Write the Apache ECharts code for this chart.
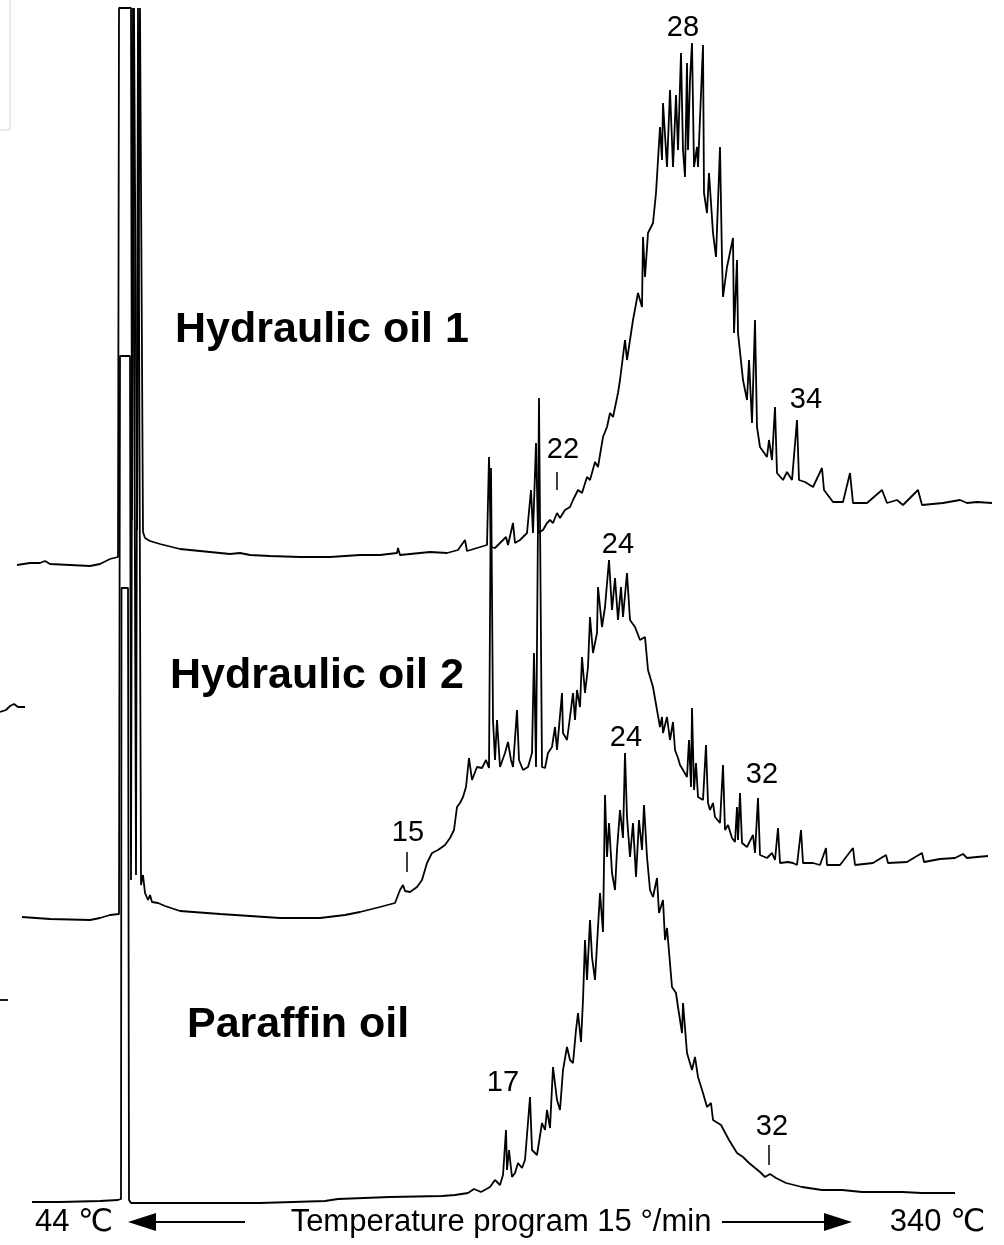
<!DOCTYPE html>
<html>
<head>
<meta charset="utf-8">
<script src="https://cdn.jsdelivr.net/npm/echarts@6/dist/echarts.min.js"></script>
<style>
html,body{margin:0;padding:0;background:#fff;}
#chart{width:1004px;height:1245px;}
</style>
</head>
<body>
<div id="chart"></div>
<script>
// Retention position (arb. units) and detector response above each trace's own baseline
const hydraulicOil1 = [
[17,0],[30,2],[40,2],[45,4],[50,1],[70,0],[90,-1],[100,1],[110,6],[118,8],
[119,557],[131,557],[132,45],[134,557],[136,557],[137,35],[140,557],[142,557],[143,33],[145,27],
[150,24],[160,21],[180,16],[200,14],[230,11],[240,12],[250,10],[270,9],[300,8],[330,8],[360,10],[380,10],
[397,12],[398,17],[400,10],[420,12],[430,13],[447,12],[458,15],[465,25],[467,14],[477,17],[487,20],
[489,108],[491,18],[495,17],[500,22],[506,28],[508,20],[513,42],[515,22],[520,25],[527,32],[531,75],
[533,32],[536,122],[538,32],[543,35],[547,42],[550,45],[553,42],[557,52],[560,47],[565,55],[570,58],
[573,65],[578,75],[582,72],[587,88],[590,85],[595,103],[598,98],[603,128],[607,138],[610,152],[613,148],
[618,172],[620,185],[625,225],[627,205],[633,245],[638,272],[642,258],[643,328],[645,288],[648,332],
[653,342],[656,372],[660,438],[662,405],[663,462],[667,398],[670,475],[673,398],[676,470],[678,415],
[681,512],[683,415],[685,388],[687,502],[688,415],[690,485],[692,522],[694,398],[697,418],[698,398],
[703,520],[704,372],[707,352],[709,392],[713,332],[716,308],[720,418],[722,305],[723,268],[727,298],
[733,327],[734,232],[737,305],[738,232],[743,185],[747,165],[749,205],[752,142],[755,245],[757,138],
[760,118],[767,108],[769,125],[772,105],[775,158],[777,92],[783,85],[787,93],[792,85],[797,145],[799,85],
[805,83],[813,78],[822,97],[824,75],[833,63],[843,63],[850,92],[853,62],[867,62],[882,75],[887,62],
[897,65],[903,60],[918,75],[922,60],[943,62],[960,65],[967,62],[977,63],[992,62]
];
const hydraulicOil2 = [
[22,3],[50,1],[90,0],[100,2],[110,5],[119,6],
[120,564],[130,564],[131,40],[133,912],[135,912],[136,45],[138,912],[140,912],[141,35],[143,45],
[145,27],[148,20],[150,25],[152,18],[158,17],[165,14],[180,9],[220,6],[280,2],[320,2],[345,5],[360,8],
[380,13],[395,17],[400,30],[403,35],[405,29],[410,28],[417,33],[422,40],[427,57],[432,67],[438,70],
[445,75],[450,82],[454,90],[457,113],[460,117],[463,123],[466,133],[469,162],[472,140],[477,153],
[482,152],[486,160],[489,152],[491,452],[493,200],[495,160],[497,200],[500,153],[505,167],[508,178],
[511,160],[513,153],[517,210],[519,160],[523,150],[528,153],[532,167],[534,267],[536,153],[539,522],
[542,153],[545,152],[548,167],[552,173],[555,193],[557,170],[562,227],[563,187],[567,180],[570,203],
[573,227],[575,200],[577,230],[580,213],[582,263],[585,227],[588,253],[590,303],[593,267],[597,287],
[598,333],[602,293],[605,313],[609,360],[612,310],[615,342],[618,300],[621,333],[623,303],[627,347],
[630,300],[635,293],[640,280],[645,283],[648,250],[653,233],[657,210],[660,193],[662,203],[663,187],
[667,203],[670,180],[673,198],[675,170],[678,162],[680,155],[683,150],[687,143],[689,180],[691,133],
[692,212],[694,130],[696,157],[698,123],[703,120],[706,175],[708,117],[710,110],[713,117],[715,103],
[720,97],[723,155],[725,90],[728,95],[732,82],[735,78],[737,113],[738,80],[740,127],[742,77],[747,73],
[753,85],[755,67],[758,122],[760,65],[767,62],[772,67],[775,60],[778,92],[780,57],[788,58],[793,57],
[797,55],[801,90],[803,57],[813,57],[820,55],[826,72],[827,55],[840,55],[853,72],[855,55],[873,57],
[886,65],[888,57],[907,58],[922,67],[924,58],[940,61],[955,62],[963,66],[967,62],[977,63],[988,64]
];
const paraffinOil = [
[32,3],[60,3],[100,4],[118,5],[121,6],[121.5,617],[128,617],[129,5],[131,2],[140,2],[200,2],[260,2],
[325,4],[338,6],[390,8],[442,9],[455,10],[468,12],[474,16],[481,13],[490,18],[495,25],[500,20],[503,30],
[506,75],[507,35],[509,55],[512,28],[515,32],[518,42],[522,37],[525,45],[530,108],[532,55],[537,50],
[542,82],[545,75],[547,95],[550,77],[553,138],[557,105],[560,95],[563,135],[567,158],[570,145],[573,142],
[576,175],[578,192],[581,163],[583,205],[585,265],[587,225],[590,285],[592,248],[595,225],[598,278],
[600,312],[603,273],[605,410],[607,348],[609,382],[612,332],[615,315],[617,355],[620,395],[623,367],
[625,452],[627,388],[630,348],[633,382],[636,328],[639,385],[642,355],[644,400],[647,348],[650,315],
[653,308],[657,327],[659,292],[663,305],[665,265],[667,277],[672,218],[676,212],[678,198],[682,172],
[683,202],[687,152],[692,135],[695,148],[698,128],[703,112],[707,98],[711,102],[713,85],[721,80],
[729,65],[737,52],[743,48],[749,42],[760,33],[765,28],[770,31],[776,27],[786,22],[802,18],[822,15],
[842,15],[862,13],[882,13],[902,13],[922,12],[955,12]
];
// stray pen strokes at the left edge of the scan (plot units)
const strayStroke1 = [[0,533],[6,535],[10,539],[14,541],[18,538],[25,538]];
const strayStroke2 = [[0,245],[8,245]];

const traceNames = ['Hydraulic oil 1','Hydraulic oil 2','Paraffin oil'];
const peakLabels1 = ['28','34','22'];
const peakLabels2 = ['24','32','15'];
const peakLabels3 = ['24','17','32'];
const axisText = ['44 \u2103','Temperature program 15 \u00B0/min','340 \u2103'];

const traceOffsets = [680, 325, 40];
const traces = [hydraulicOil1, hydraulicOil2, paraffinOil];

const chart = echarts.init(document.getElementById('chart'), null, {renderer:'canvas'});
const lineStyle = {color:'#000', width:1.8};
const font = "'Liberation Sans', Arial, Helvetica, 'DejaVu Sans', sans-serif";

function tick(x, y1, y2){
  return [{coord:[x,y1]},{coord:[x,y2]}];
}
const tickLines = [
  [tick(557, 773, 755)],
  [tick(407, 393, 373)],
  [tick(769, 100, 80)]
];

const series = traces.map((t, i) => ({
  name: traceNames[i],
  type: 'line',
  showSymbol: false,
  silent: true,
  lineStyle: lineStyle,
  data: t.map(p => [p[0], p[1] + traceOffsets[i]]),
  markLine: {
    silent: true, symbol: 'none', label:{show:false},
    lineStyle:{color:'#000', width:1.5, type:'solid'},
    data: tickLines[i]
  }
}));
series.push({type:'line', showSymbol:false, silent:true, lineStyle:lineStyle, data:strayStroke1});
series.push({type:'line', showSymbol:false, silent:true, lineStyle:lineStyle, data:strayStroke2});

function txt(x, y, s, size, bold, align){
  return {type:'text', x:x, y:y, style:{text:s, fill:'#000', font:(bold?'bold ':'')+size+'px '+font, textAlign:align||'center', textVerticalAlign:'middle'}};
}

const graphics = [
  {type:'rect', shape:{x:-2, y:-2, width:12, height:132}, style:{fill:'none', stroke:'#d8d8d8', lineWidth:1}},
  txt(175, 330, traceNames[0], 43, true, 'left'),
  txt(170, 676, traceNames[1], 43, true, 'left'),
  txt(187, 1025, traceNames[2], 43, true, 'left'),
  txt(683, 28, peakLabels1[0], 29),
  txt(806, 400, peakLabels1[1], 29),
  txt(563, 450, peakLabels1[2], 29),
  txt(618, 545, peakLabels2[0], 29),
  txt(762, 775, peakLabels2[1], 29),
  txt(408, 833, peakLabels2[2], 29),
  txt(626, 738, peakLabels3[0], 29),
  txt(503, 1083, peakLabels3[1], 29),
  txt(772, 1127, peakLabels3[2], 29),
  txt(35, 1222, axisText[0], 31, false, 'left'),
  txt(501, 1222, axisText[1], 31, false, 'center'),
  txt(985, 1222, axisText[2], 31, false, 'right'),
  {type:'line', shape:{x1:150, y1:1222, x2:245, y2:1222}, style:{stroke:'#000', lineWidth:2}},
  {type:'polygon', shape:{points:[[128,1222],[156,1213],[156,1231]]}, style:{fill:'#000'}},
  {type:'line', shape:{x1:722, y1:1222, x2:828, y2:1222}, style:{stroke:'#000', lineWidth:2}},
  {type:'polygon', shape:{points:[[852,1222],[824,1213],[824,1231]]}, style:{fill:'#000'}}
];

chart.setOption({
  animation: false,
  backgroundColor: '#fff',
  grid: {left:0, right:0, top:0, bottom:0},
  xAxis: {type:'value', min:0, max:1004, show:false},
  yAxis: {type:'value', min:0, max:1245, show:false},
  series: series,
  graphic: graphics
});
</script>
</body>
</html>
